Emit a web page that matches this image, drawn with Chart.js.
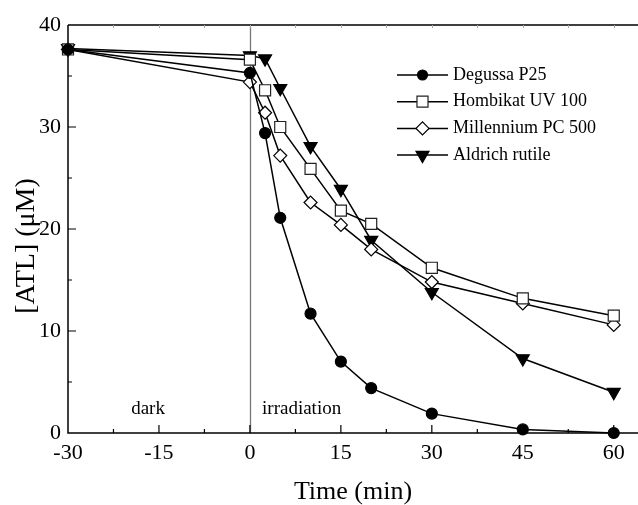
<!DOCTYPE html>
<html lang="en">
<head>
<meta charset="UTF-8">
<title>ATL degradation over TiO2</title>
<script src="https://cdn.jsdelivr.net/npm/chart.js"></script>
<style>
  html, body { margin: 0; padding: 0; background: #fff; overflow: hidden; }
  #wrap { width: 638px; height: 505px; }
</style>
</head>
<body>
<div id="wrap"><canvas id="atlChart"></canvas></div>
<script>
// sampling times (min), dark phase starts at -30
const times = [-30, 0, 2.5, 5, 10, 15, 20, 30, 45, 60];
// [ATL] in µM per catalyst
const degussaP25   = [37.6, 35.3, 29.4, 21.1, 11.7, 7.0, 4.4, 1.9, 0.35, 0.0];
const hombikatUV   = [37.6, 36.6, 33.6, 30.0, 25.9, 21.8, 20.5, 16.2, 13.2, 11.5];
const millennium   = [37.6, 34.4, 31.4, 27.2, 22.6, 20.4, 18.0, 14.8, 12.7, 10.6];
const aldrichRutile = [37.7, 37.0, 36.7, 33.8, 28.1, 23.9, 18.9, 13.8, 7.3, 4.0];
const seriesNames = ['Degussa P25', 'Hombikat UV 100', 'Millennium PC 500', 'Aldrich rutile'];
const xTicks = [-30, -15, 0, 15, 30, 45, 60];
const yTicks = [0, 10, 20, 30, 40];

const SERIF = '"Liberation Serif", "Times New Roman", serif';

const markers = [
  { pointStyle: 'circle',   radius: 5.5, rotation: 0,   fill: '#000' },
  { pointStyle: 'rect',     radius: 7.8, rotation: 0,   fill: '#fff' },
  { pointStyle: 'rectRot',  radius: 6.5, rotation: 0,   fill: '#fff' },
  { pointStyle: 'triangle', radius: 7.5, rotation: 180, fill: '#000' }
];

const allSeries = [degussaP25, hombikatUV, millennium, aldrichRutile];

const datasets = allSeries.map((vals, i) => ({
  label: seriesNames[i],
  data: vals.map((v, j) => ({ x: times[j], y: v })),
  borderColor: '#000',
  borderWidth: 1.5,
  pointStyle: markers[i].pointStyle,
  pointRadius: markers[i].radius,
  pointRotation: markers[i].rotation,
  pointBackgroundColor: markers[i].fill,
  pointBorderColor: i === 1 ? '#222' : '#000',
  pointBorderWidth: 1.2,
  tension: 0,
  clip: false
}));

// frame, inward ticks, irradiation marker, phase labels, y title
const framePlugin = {
  id: 'frame',
  beforeDatasetsDraw(chart) {
    const { ctx, chartArea: a, scales: { x, y } } = chart;
    ctx.save();

    // start of irradiation
    const x0 = Math.round(x.getPixelForValue(0)) + 0.5;
    ctx.strokeStyle = '#777';
    ctx.lineWidth = 1.3;
    ctx.beginPath();
    ctx.moveTo(x0, a.top);
    ctx.lineTo(x0, a.bottom);
    ctx.stroke();

    ctx.strokeStyle = '#000';
    ctx.lineWidth = 1.5;
    ctx.beginPath();
    ctx.moveTo(a.left, a.top);
    ctx.lineTo(a.right, a.top);
    ctx.moveTo(a.left, a.top);
    ctx.lineTo(a.left, a.bottom);
    ctx.lineTo(a.right, a.bottom);
    ctx.stroke();

    // x ticks (major + minor halfway), pointing inward
    ctx.lineWidth = 1.2;
    ctx.beginPath();
    xTicks.forEach((v, i) => {
      const px = x.getPixelForValue(v);
      if (i > 0) { ctx.moveTo(px, a.bottom); ctx.lineTo(px, a.bottom - 8); }
      const mx = x.getPixelForValue(v + 7.5);
      if (mx < a.right) { ctx.moveTo(mx, a.bottom); ctx.lineTo(mx, a.bottom - 4); }
    });
    yTicks.forEach((v, i) => {
      const py = y.getPixelForValue(v);
      if (i > 0 && i < yTicks.length - 1) { ctx.moveTo(a.left, py); ctx.lineTo(a.left + 8, py); }
      if (i < yTicks.length - 1) {
        const my = y.getPixelForValue(v + 5);
        ctx.moveTo(a.left, my); ctx.lineTo(a.left + 4, my);
      }
    });
    ctx.stroke();

    // faint marks along the top edge
    ctx.strokeStyle = '#aaa';
    ctx.lineWidth = 1;
    ctx.beginPath();
    for (let v = -22.5; x.getPixelForValue(v) < a.right; v += 7.5) {
      const px = Math.round(x.getPixelForValue(v)) + 0.5;
      ctx.moveTo(px, a.top); ctx.lineTo(px, a.top + 3);
    }
    ctx.stroke();

    ctx.fillStyle = '#000';
    ctx.font = '19px ' + SERIF;
    ctx.textBaseline = 'alphabetic';
    ctx.textAlign = 'center';
    ctx.fillText('dark', x.getPixelForValue(-16.8), y.getPixelForValue(1.9));
    ctx.textAlign = 'left';
    ctx.fillText('irradiation', x.getPixelForValue(2), y.getPixelForValue(1.9));

    // y axis title, sits a bit below the middle of the axis
    ctx.translate(27, (a.top + a.bottom) / 2 + 17);
    ctx.rotate(-Math.PI / 2);
    ctx.font = '28px ' + SERIF;
    ctx.textAlign = 'center';
    ctx.textBaseline = 'middle';
    ctx.fillText('[ATL] (μM)', 0, 0);
    ctx.restore();
  },
  afterDraw(chart) {
    // legend: line with marker, then name
    const { ctx } = chart;
    const lx = 397, lw = 51, ly = 75, step = 26.7;
    ctx.save();
    chart.data.datasets.forEach((ds, i) => {
      const cy = ly + i * step;
      ctx.strokeStyle = '#000';
      ctx.lineWidth = 1.5;
      ctx.beginPath();
      ctx.moveTo(lx, cy);
      ctx.lineTo(lx + lw, cy);
      ctx.stroke();
      ctx.fillStyle = ds.pointBackgroundColor;
      ctx.strokeStyle = ds.pointBorderColor;
      ctx.lineWidth = ds.pointBorderWidth;
      Chart.helpers.drawPoint(ctx, {
        pointStyle: ds.pointStyle,
        radius: i === 0 ? 5 : ds.pointRadius,
        rotation: ds.pointRotation,
        borderWidth: ds.pointBorderWidth
      }, lx + lw / 2, cy);
      ctx.fillStyle = '#000';
      ctx.font = '18px ' + SERIF;
      ctx.textAlign = 'left';
      ctx.textBaseline = 'middle';
      ctx.fillText(ds.label, lx + lw + 5, cy);
    });
    ctx.restore();
  }
};

new Chart(document.getElementById('atlChart'), {
  type: 'line',
  data: { datasets },
  options: {
    responsive: true,
    maintainAspectRatio: false,
    devicePixelRatio: 1,
    animation: false,
    layout: { autoPadding: false, padding: { top: 25, right: 0, bottom: 0, left: 0 } },
    plugins: { legend: { display: false }, tooltip: { enabled: false } },
    scales: {
      x: {
        type: 'linear',
        min: -30,
        max: 64,
        afterBuildTicks: s => { s.ticks = xTicks.map(v => ({ value: v })); },
        afterFit: s => { s.height = 72; s.paddingRight = 0; s.paddingLeft = 0; },
        grid: { display: false, drawTicks: false },
        border: { display: false },
        ticks: {
          color: '#000',
          font: { family: SERIF, size: 22 },
          padding: 7,
          maxRotation: 0,
          autoSkip: false
        },
        title: {
          display: true,
          text: 'Time (min)',
          color: '#000',
          font: { family: SERIF, size: 26, lineHeight: 1 },
          padding: { top: 0, bottom: 0 }
        }
      },
      y: {
        type: 'linear',
        min: 0,
        max: 40,
        afterBuildTicks: s => { s.ticks = yTicks.map(v => ({ value: v })); },
        afterFit: s => { s.width = 68; },
        grid: { display: false, drawTicks: false },
        border: { display: false },
        ticks: {
          color: '#000',
          font: { family: SERIF, size: 22 },
          padding: 7
        }
      }
    }
  },
  plugins: [framePlugin]
});
</script>
</body>
</html>
